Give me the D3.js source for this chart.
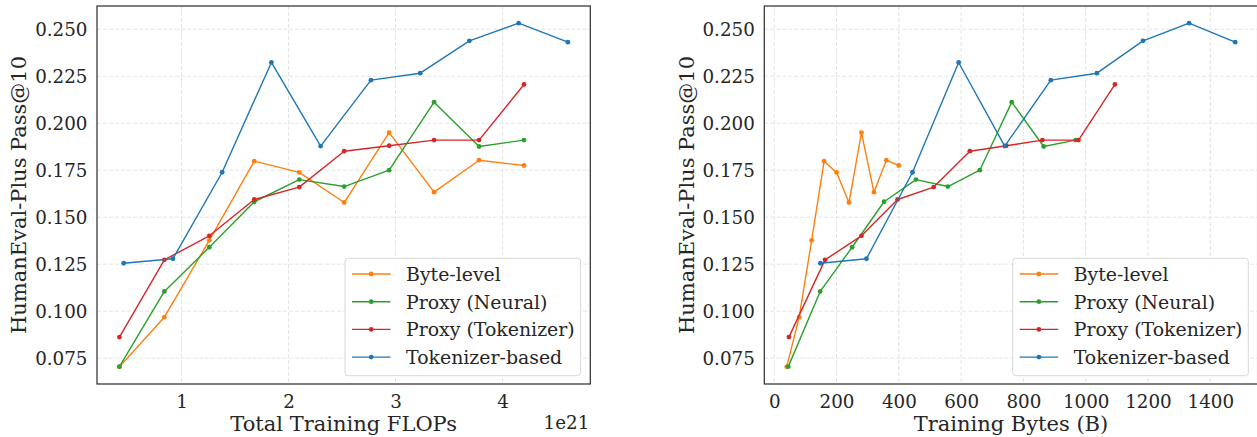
<!DOCTYPE html>
<html>
<head>
<meta charset="utf-8">
<script src="https://cdn.jsdelivr.net/npm/d3@7/dist/d3.min.js"></script>
<style>
  html, body { margin: 0; padding: 0; background: #fff; }
  svg { display: block; }
  text { font-family: "DejaVu Serif", serif; fill: #262626; }
</style>
</head>
<body>
<svg id="chart" width="1257" height="437"></svg>
<script>
// ---- data ----
const seriesNames = ["Byte-level", "Proxy (Neural)", "Proxy (Tokenizer)", "Tokenizer-based"];
const seriesColors = ["#ff7f0e", "#2ca02c", "#d62728", "#1f77b4"];

// Total training FLOPs (units of 1e21)
const flopsByte     = [0.42, 0.84, 1.26, 1.68, 2.10, 2.52, 2.94, 3.36, 3.78, 4.20];
const flopsNeural   = [0.42, 0.84, 1.26, 1.68, 2.10, 2.52, 2.94, 3.36, 3.78, 4.20];
const flopsTokProxy = [0.42, 0.84, 1.26, 1.68, 2.10, 2.52, 2.94, 3.36, 3.78, 4.20];
const flopsTok      = [0.46, 0.92, 1.38, 1.84, 2.30, 2.77, 3.23, 3.69, 4.15, 4.61];

// Training bytes (B)
const bytesByte     = [40, 80, 120, 160, 200, 240, 280, 320, 360, 400];
const bytesNeural   = [45, 147.5, 250, 352.5, 455, 557.5, 660, 762.5, 865, 967.5];
const bytesTokProxy = [47, 163, 280, 396, 512, 628, 745, 861, 977, 1094];
const bytesTok      = [148, 296, 444, 592, 740, 888, 1036, 1184, 1332, 1480];

// HumanEval-Plus Pass@10
const passByte     = [0.0704, 0.0968, 0.1377, 0.1798, 0.1738, 0.1578, 0.1950, 0.1633, 0.1803, 0.1775];
const passNeural   = [0.0705, 0.1105, 0.1340, 0.1582, 0.1700, 0.1663, 0.1750, 0.2112, 0.1876, 0.1910];
const passTokProxy = [0.0862, 0.1273, 0.1401, 0.1594, 0.1660, 0.1851, 0.1880, 0.1910, 0.1910, 0.2206];
const passTok      = [0.1255, 0.1279, 0.1739, 0.2323, 0.1878, 0.2229, 0.2266, 0.2438, 0.2532, 0.2431];

const yTicks = [0.075, 0.100, 0.125, 0.150, 0.175, 0.200, 0.225, 0.250];
const xTicksFlops = [1, 2, 3, 4];
const xTicksBytes = [0, 200, 400, 600, 800, 1000, 1200, 1400];

const yLabel = "HumanEval-Plus Pass@10";
const xLabelFlops = "Total Training FLOPs";
const xLabelBytes = "Training Bytes (B)";
const flopsOffsetText = "1e21";

// ---- layout ----
const svg = d3.select("#chart");
const plotTop = 6, plotBottom = 384;
const tickFont = 18.3, labelFont = 21, legendFont = 18.9;

function padded(vals) {
  const lo = d3.min(vals), hi = d3.max(vals), p = (hi - lo) * 0.05;
  return [lo - p, hi + p];
}
const allPass = [].concat(passByte, passNeural, passTokProxy, passTok);
const yDomain = padded(allPass);

function panel(opts) {
  const { left, right, xs, xTicks, xLabel, offsetText, yLabelX, legendX, clipId } = opts;
  const x = d3.scaleLinear().domain(padded([].concat(...xs))).range([left, right]);
  const y = d3.scaleLinear().domain(yDomain).range([plotBottom, plotTop]);
  const g = svg.append("g");

  // grid
  g.append("g").selectAll("line").data(xTicks).join("line")
    .attr("x1", d => x(d)).attr("x2", d => x(d)).attr("y1", plotTop).attr("y2", plotBottom)
    .attr("stroke", "#e4e4e4").attr("stroke-width", 1).attr("stroke-dasharray", "4,2");
  g.append("g").selectAll("line").data(yTicks).join("line")
    .attr("x1", left).attr("x2", right).attr("y1", d => y(d)).attr("y2", d => y(d))
    .attr("stroke", "#e4e4e4").attr("stroke-width", 1).attr("stroke-dasharray", "4,2");

  // axes (tick labels only, via d3 axes)
  const xAxis = d3.axisBottom(x).tickValues(xTicks).tickSize(0).tickPadding(0)
    .tickFormat(d => String(d));
  const xa = g.append("g").attr("transform", `translate(0,${plotBottom})`).call(xAxis);
  xa.select(".domain").remove();
  xa.selectAll("text").attr("font-size", tickFont).attr("font-family", "DejaVu Serif")
    .attr("fill", "#262626").attr("dy", null).attr("y", 24);

  const yAxis = d3.axisLeft(y).tickValues(yTicks).tickSize(0).tickPadding(0)
    .tickFormat(d3.format(".3f"));
  const ya = g.append("g").attr("transform", `translate(${left},0)`).call(yAxis);
  ya.select(".domain").remove();
  ya.selectAll("text").attr("font-size", tickFont).attr("font-family", "DejaVu Serif")
    .attr("fill", "#262626").attr("x", -9.5).attr("dy", "0.36em");

  // clip for data
  svg.append("defs").append("clipPath").attr("id", clipId)
    .append("rect").attr("x", left).attr("y", plotTop).attr("width", right - left).attr("height", plotBottom - plotTop);

  const data = g.append("g").attr("clip-path", `url(#${clipId})`);
  const ys = [passByte, passNeural, passTokProxy, passTok];
  const line = d3.line().x(d => x(d[0])).y(d => y(d[1]));
  ys.forEach((yv, i) => {
    const pts = xs[i].map((xv, j) => [xv, yv[j]]);
    data.append("path").datum(pts).attr("d", line)
      .attr("fill", "none").attr("stroke", seriesColors[i]).attr("stroke-width", 1.4)
      .attr("stroke-linejoin", "round");
    data.append("g").selectAll("circle").data(pts).join("circle")
      .attr("cx", d => x(d[0])).attr("cy", d => y(d[1])).attr("r", 2.4)
      .attr("fill", seriesColors[i]);
  });

  // frame
  g.append("rect").attr("x", left).attr("y", plotTop).attr("width", right - left).attr("height", plotBottom - plotTop)
    .attr("fill", "none").attr("stroke", "#333").attr("stroke-width", 1.25);

  // labels
  g.append("text").attr("x", (left + right) / 2).attr("y", 430.5).attr("text-anchor", "middle")
    .attr("font-size", labelFont).text(xLabel);
  g.append("text").attr("transform", `translate(${yLabelX},${(plotTop + plotBottom) / 2}) rotate(-90)`)
    .attr("text-anchor", "middle").attr("font-size", labelFont).text(yLabel);
  if (offsetText) {
    g.append("text").attr("x", right - 1).attr("y", 429).attr("text-anchor", "end")
      .attr("font-size", tickFont).text(offsetText);
  }

  // legend
  const lg = g.append("g");
  const boxW = 235.6, boxTop = 258.3, boxBottom = 375.7;
  lg.append("rect").attr("x", legendX).attr("y", boxTop).attr("width", boxW).attr("height", boxBottom - boxTop)
    .attr("rx", 3).attr("fill", "#fff").attr("fill-opacity", 0.85)
    .attr("stroke", "#d8d8d8").attr("stroke-width", 1);
  seriesNames.forEach((name, i) => {
    const cy = 274 + i * 27.7;
    lg.append("line").attr("x1", legendX + 7).attr("x2", legendX + 45.5).attr("y1", cy).attr("y2", cy)
      .attr("stroke", seriesColors[i]).attr("stroke-width", 1.4);
    lg.append("circle").attr("cx", legendX + 26.2).attr("cy", cy).attr("r", 2.4).attr("fill", seriesColors[i]);
    lg.append("text").attr("x", legendX + 61).attr("y", cy).attr("dy", "0.36em")
      .attr("font-size", legendFont).text(name);
  });
}

panel({
  left: 97, right: 590.3,
  xs: [flopsByte, flopsNeural, flopsTokProxy, flopsTok],
  xTicks: xTicksFlops, xLabel: xLabelFlops, offsetText: flopsOffsetText,
  yLabelX: 26, legendX: 345, clipId: "clipL"
});
panel({
  left: 764.3, right: 1257.6,
  xs: [bytesByte, bytesNeural, bytesTokProxy, bytesTok],
  xTicks: xTicksBytes, xLabel: xLabelBytes, offsetText: null,
  yLabelX: 693.5, legendX: 1012.7, clipId: "clipR"
});
</script>
</body>
</html>
